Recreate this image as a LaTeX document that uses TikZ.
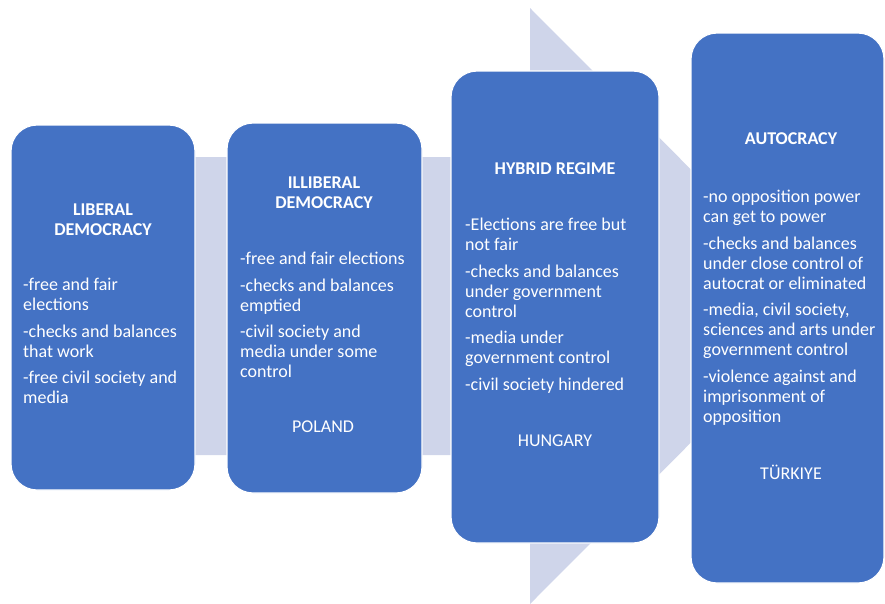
\documentclass[tikz,border=0pt]{standalone}
\usepackage{fontspec}
\setmainfont{Carlito}
\definecolor{boxblue}{HTML}{4472C4}
\definecolor{arrowgray}{HTML}{CFD5EA}
\tikzset{
  regime/.style={draw=white, line width=1.2pt, fill=boxblue, rounded corners=26pt},
  title/.style={text=white, font=\fontsize{18}{20}\selectfont\bfseries, align=center, inner sep=0pt},
  body/.style={text=white, font=\fontsize{18}{20}\selectfont, align=left, anchor=north west, inner sep=0pt},
  country/.style={text=white, font=\fontsize{18}{20}\selectfont, inner sep=0pt},
}
\newcommand{\gap}{\\[6.5pt]}
\begin{document}
\begin{tikzpicture}[x=1pt,y=-1pt]
\useasboundingbox (0,0) rectangle (885,603);
\fill[arrowgray] (60,157) -- (530,157) -- (530,8) -- (827,306) -- (530,604) -- (530,455) -- (60,455) -- cycle;
% boxes
\draw[regime] (11,125) rectangle (195,490);
\draw[regime] (227,123) rectangle (422,493);
\draw[regime] (451,71) rectangle (659,543);
\draw[regime] (691,33) rectangle (884,583);
% box 1
\node[title] (t1) at (103,220) {LIBERAL\\DEMOCRACY};
\node[body] (b1) at (23,278) {-free and fair\\elections\gap -checks and balances\\that work\gap -free civil society and\\media};
% box 2
\node[title] (t2) at (324,193) {ILLIBERAL\\DEMOCRACY};
\node[body] (b2) at (240,252) {-free and fair elections\gap -checks and balances\\emptied\gap -civil society and\\media under some\\control};
\node[country] (c2) at (323,427) {POLAND};
% box 3
\node[title] (t3) at (555,169) {HYBRID REGIME};
\node[body] (b3) at (465,218) {-Elections are free but\\not fair\gap -checks and balances\\under government\\control\gap -media under\\government control\gap -civil society hindered};
\node[country] (c3) at (555,441) {HUNGARY};
% box 4
\node[title] (t4) at (791,139) {AUTOCRACY};
\node[body] (b4) at (703,190) {-no opposition power\\can get to power\gap -checks and balances\\under close control of\\autocrat or eliminated\gap -media, civil society,\\sciences and arts under\\government control\gap -violence against and\\imprisonment of\\opposition};
\node[country] (c4) at (791,472) {TÜRKIYE};
\end{tikzpicture}
\end{document}
